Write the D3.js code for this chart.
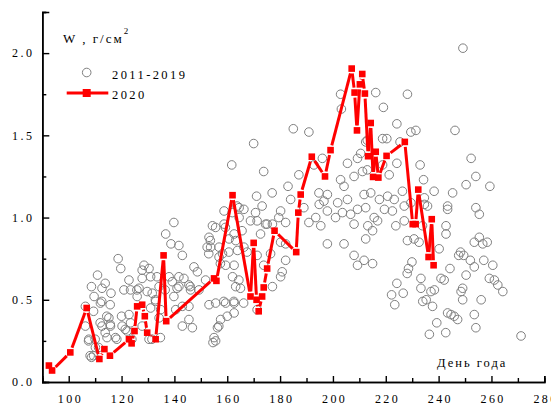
<!DOCTYPE html>
<html>
<head>
<meta charset="utf-8">
<script src="https://cdn.jsdelivr.net/npm/d3@7"></script>
<style>
  html, body { margin: 0; padding: 0; background: #fff; }
  svg { display: block; }
  text { font-family: "Liberation Serif", "Times New Roman", serif; fill: #000; }
</style>
</head>
<body>
<svg id="chart" width="551" height="406"></svg>
<script>
// Snow water equivalent W (g/cm²) by day of year.
// Seasons 2011-2019: individual observations.
const pastDays = [
  161.7,139.8,136.7,138.7,141.7,143.0,118.7,119.7,110.9,108.6,112.6,116.0,109.6,112.0,115.7,106.3,106.3,107.6,108.6,110.1,
  112.6,115.2,115.8,114.5,117.7,120.0,120.2,122.8,122.1,122.8,120.9,123.4,125.9,127.8,128.5,130.4,131.0,127.8,126.6,129.7,
  131.6,132.9,131.0,134.2,134.8,134.2,130.4,127.8,123.4,138.0,139.2,141.7,141.7,143.6,139.8,143.0,140.5,145.5,146.1,147.4,
  148.7,145.5,145.5,146.8,143.0,149.3,151.8,153.1,153.7,154.4,155.6,158.8,158.8,156.9,158.2,156.9,159.4,162.6,162.0,163.2,
  159.4,162.6,155.6,153.1,157.5,156.3,155.0,155.6,162.6,162.6,163.2,163.9,160.7,164.5,164.5,
  170.0,173.8,185.0,190.9,202.9,203.2,187.1,183.0,177.0,171.1,173.2,180.2,184.0,189.0,190.9,194.7,196.0,192.8,197.9,196.6,
  195.4,197.9,204.2,202.9,204.2,205.5,208.0,201.8,201.0,203.6,205.5,206.7,208.0,209.3,210.5,212.4,213.0,211.8,212.4,208.0,
  209.3,211.8,179.5,182.1,177.1,174.5,171.3,172.6,180.2,182.1,180.8,176.4,177.1,173.8,171.3,165.0,162.5,166.2,158.7,160.0,
  156.8,171.3,157.4,164.4,160.6,166.3,168.8,170.7,175.1,165.6,166.3,167.5,182.1,180.2,153.6,152.4,153.0,159.3,161.9,163.7,
  194.8,193.5,197.9,
  249.2,216.2,228.2,219.1,224.2,229.5,231.4,246.2,218.8,220.4,225.4,213.0,209.3,211.2,218.8,224.2,233.0,252.3,221.3,234.3,
  254.1,250.4,259.4,238.3,245.3,226.3,214.3,217.6,220.7,223.2,229.5,234.6,243.4,254.1,
  234.6,243.4,255.4,212.4,219.5,222.5,227.0,235.8,215.6,216.9,227.0,213.2,215.0,223.8,233.9,242.8,242.8,228.2,230.7,232.6,
  240.2,255.4,253.5,256.7,258.4,248.3,247.6,249.5,252.0,257.1,253.5,260.5,215.0,229.9,228.6,228.1,244.3,250.4,233.3,240.9,
  242.1,259.2,261.1,262.4,264.3,224.2,233.3,238.4,237.1,249.1,248.5,249.1,256.1,222.2,226.6,223.4,234.0,235.3,237.7,243.4,
  244.7,245.9,247.2,253.5,239.3,254.1,236.5,242.7,271.2,
  112.5,109.4,114.4,111.9,115.7,113.8,110.0,111.3,109.4,118.2,121.4,123.9,108.1,107.5,131.5,134.7,154.6,113.8,133.4,146.0,
  141.0,125.8,136.5,132.8
];
const pastW = [
  1.32,0.97,0.90,0.84,0.83,0.77,0.75,0.69,0.65,0.58,0.57,0.54,0.52,0.48,0.47,0.46,0.34,0.26,0.15,0.21,
  0.34,0.39,0.34,0.27,0.27,0.40,0.34,0.41,0.31,0.62,0.56,0.56,0.52,0.68,0.71,0.69,0.64,0.63,0.57,0.55,
  0.54,0.49,0.45,0.58,0.44,0.39,0.26,0.34,0.36,0.64,0.61,0.64,0.58,0.63,0.52,0.46,0.44,0.59,0.56,0.70,
  0.67,0.46,0.38,0.33,0.34,0.56,0.62,0.88,0.82,0.95,0.94,1.04,0.96,0.82,0.78,0.76,0.71,0.71,0.64,0.58,
  0.48,0.48,0.48,0.47,0.38,0.33,0.27,0.25,0.42,0.90,0.86,0.80,0.87,1.06,1.00,
  1.45,1.28,1.54,1.52,1.75,1.66,1.26,1.19,1.15,1.13,1.07,1.04,1.11,1.06,0.97,1.15,1.36,1.32,1.14,1.10,
  0.95,0.84,0.84,1.23,1.19,1.33,1.25,1.09,1.00,1.03,1.11,1.02,0.96,1.05,1.39,1.46,1.29,1.14,0.87,0.77,
  0.71,0.74,1.00,0.97,0.96,0.96,0.98,0.90,0.85,0.74,0.67,0.78,0.58,0.71,0.77,0.57,0.49,0.48,0.49,0.40,
  0.34,0.44,0.72,0.62,0.79,1.05,0.98,1.03,0.96,0.92,0.82,0.79,0.84,0.64,0.86,0.82,0.78,0.94,1.03,1.07,
  1.08,1.00,1.04,
  2.03,1.76,1.75,1.67,1.57,1.52,1.53,1.53,1.48,1.48,1.46,1.47,1.36,1.28,1.32,1.33,1.32,1.36,1.26,1.23,
  1.25,1.20,1.19,1.16,1.15,1.16,1.15,1.11,1.13,1.11,1.09,1.08,1.07,1.06,
  1.12,1.05,1.02,1.06,1.05,1.04,1.07,1.07,1.00,0.98,0.98,0.95,0.92,0.95,0.95,0.95,0.90,0.86,0.87,0.85,
  0.81,0.88,0.85,0.84,0.85,0.79,0.77,0.77,0.74,0.74,0.70,0.71,0.72,0.73,0.69,0.66,0.69,0.65,0.63,0.63,
  0.62,0.63,0.62,0.59,0.55,0.60,0.57,0.56,0.55,0.57,0.55,0.50,0.50,0.53,0.54,0.47,0.49,0.50,0.46,0.42,
  0.41,0.40,0.38,0.41,0.36,0.33,0.29,0.30,0.28,
  0.49,0.43,0.40,0.36,0.35,0.30,0.26,0.21,0.16,0.26,0.32,0.26,0.16,0.25,0.26,0.27,0.24,0.60,0.64,0.58,
  0.57,0.56,0.56,0.50
];

// Season 2020.
const days2020 = [
  92.5,93.7,100.6,106.8,111.6,113.5,115.6,122.8,123.8,124.9,125.9,127.8,128.8,129.7,132.9,135.9,136.9,
  155.0,155.9,162.0,168.8,170.0,171.1,171.9,173.2,173.8,175.1,177.9,186.1,186.9,187.8,192.0,197.0,199.1,
  207.1,208.2,209.1,210.2,211.1,212.1,213.3,214.3,215.2,216.2,217.2,220.3,227.2,
  230.2,231.3,232.3,236.2,237.4,238.1
];
const w2020 = [
  0.10,0.07,0.18,0.45,0.14,0.20,0.16,0.26,0.235,0.31,0.46,0.47,0.40,0.30,0.26,0.77,0.37,
  0.63,0.615,1.136,0.52,0.846,0.50,0.43,0.52,0.575,0.69,0.92,0.79,1.03,1.14,1.37,1.25,1.41,
  1.906,1.76,1.53,1.81,1.873,1.754,1.373,1.575,1.247,1.40,1.243,1.375,1.46,
  0.96,0.96,1.17,0.76,0.99,0.71
];

// Axis ticks.
const xMajor = [100, 120, 140, 160, 180, 200, 220, 240, 260, 280];
const xMinor = [90, 110, 130, 150, 170, 190, 210, 230, 250, 270];
const yMajor = [0.0, 0.5, 1.0, 1.5, 2.0];
const yMinor = [0.25, 0.75, 1.25, 1.75, 2.25];

const legendLabels = ["2011-2019", "2020"];

const svg = d3.select("#chart");
const x = d3.scaleLinear().domain([90, 280]).range([42.3, 544.3]);
const y = d3.scaleLinear().domain([0, 2.25]).range([382, 12]);

const grey = "#7f7f7f";
const red = "#ff0000";
const ls = 2.4; // letter spacing used for all labels

// Past seasons: hollow circles.
svg.append("g")
  .selectAll("circle")
  .data(pastDays.map((d, i) => [d, pastW[i]]))
  .join("circle")
  .attr("cx", d => x(d[0]))
  .attr("cy", d => y(d[1]))
  .attr("r", 4.3)
  .attr("fill", "none")
  .attr("stroke", grey)
  .attr("stroke-width", 1);

// 2020: line segments, trimmed short of each marker.
const pts = days2020.map((d, i) => [x(d), y(w2020[i])]);
const gap = 5;
const segs = [];
for (let i = 0; i < pts.length - 1; i++) {
  const [x1, y1] = pts[i], [x2, y2] = pts[i + 1];
  const len = Math.hypot(x2 - x1, y2 - y1);
  if (len <= 2 * gap) continue;
  const ux = (x2 - x1) / len, uy = (y2 - y1) / len;
  segs.push([x1 + ux * gap, y1 + uy * gap, x2 - ux * gap, y2 - uy * gap]);
}
svg.append("g")
  .selectAll("line")
  .data(segs)
  .join("line")
  .attr("x1", d => d[0]).attr("y1", d => d[1])
  .attr("x2", d => d[2]).attr("y2", d => d[3])
  .attr("stroke", red)
  .attr("stroke-width", 3);

const sq = 6.6;
svg.append("g")
  .selectAll("rect")
  .data(days2020.map((d, i) => [d, w2020[i]]))
  .join("rect")
  .attr("x", d => x(d[0]) - sq / 2)
  .attr("y", d => y(d[1]) - sq / 2)
  .attr("width", sq)
  .attr("height", sq)
  .attr("fill", red);

// Axes with inward ticks.
const fmtY = d3.format(".1f");
const yAxis = svg.append("g").attr("transform", `translate(${x(90)},0)`);
yAxis.call(d3.axisLeft(y).tickValues(yMajor).tickSize(-7).tickPadding(8).tickFormat(fmtY));
yAxis.append("g").call(d3.axisLeft(y).tickValues(yMinor).tickSize(-4).tickFormat(""));

const xAxis = svg.append("g").attr("transform", `translate(0,${y(0)})`);
xAxis.call(d3.axisBottom(x).tickValues(xMajor).tickSize(-6).tickPadding(12).tickFormat(d3.format("d")));
xAxis.append("g").call(d3.axisBottom(x).tickValues(xMinor).tickSize(-4).tickFormat(""));

svg.selectAll(".domain").attr("stroke", "#000").attr("stroke-width", 1.6);
svg.selectAll(".tick line").attr("stroke", "#000").attr("stroke-width", 1.4);
svg.selectAll(".tick text")
  .style("font-family", '"Liberation Serif", serif')
  .attr("font-size", 12)
  .style("letter-spacing", ls + "px")
  .attr("fill", "#000");
xAxis.selectAll(".tick text").attr("dx", ls / 2);

// Axis titles.
const yTitle = svg.append("text")
  .attr("x", 63)
  .attr("y", 43)
  .attr("font-size", 13)
  .style("letter-spacing", "2px");
yTitle.append("tspan").text("W , г/см");
yTitle.append("tspan").attr("font-size", 9).attr("dy", -9).text("2");

svg.append("text")
  .attr("x", 437)
  .attr("y", 367)
  .attr("font-size", 12.5)
  .style("letter-spacing", "2px")
  .text("День года");

// Legend.
const lg = svg.append("g");
lg.append("circle").attr("cx", 86.7).attr("cy", 72.5).attr("r", 4.3)
  .attr("fill", "none").attr("stroke", grey).attr("stroke-width", 1);
lg.append("text").attr("x", 112).attr("y", 79).attr("font-size", 12.5)
  .style("letter-spacing", ls + "px").text(legendLabels[0]);
lg.append("line").attr("x1", 66.7).attr("x2", 108.3).attr("y1", 93).attr("y2", 93)
  .attr("stroke", red).attr("stroke-width", 3);
lg.append("rect").attr("x", 82.7).attr("y", 89).attr("width", 8).attr("height", 8).attr("fill", red);
lg.append("text").attr("x", 112).attr("y", 98.5).attr("font-size", 12.5)
  .style("letter-spacing", ls + "px").text(legendLabels[1]);
</script>
</body>
</html>
